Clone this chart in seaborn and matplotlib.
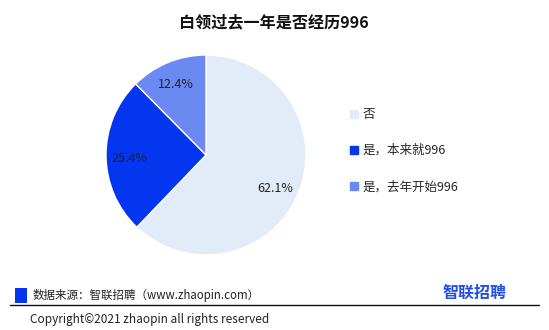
import matplotlib
matplotlib.use("Agg")
import matplotlib.pyplot as plt
import seaborn as sns
from matplotlib.patches import Rectangle
from matplotlib.lines import Line2D
import numpy as np

categories = ["否", "是，本来就996", "是，去年开始996"]
values = [62.1, 25.4, 12.4]
colors = ["#E2ECF8", "#0336EE", "#6A8AF2"]
label_dist = [0.77, 0.77, 0.77]
label_rot = [-3.5, 2.0, 0.5]

sns.set_theme(style="white")
plt.rcParams['font.family'] = ['Noto Sans CJK SC', 'DejaVu Sans']

W, H = 549, 330
fig = plt.figure(figsize=(W / 100, H / 100), dpi=100)
fig.patch.set_facecolor("white")

# pie axes: center (206,155), radius 100 px
ax = fig.add_axes([106 / W, (H - 255) / H, 200 / W, 200 / H])
wedges, texts = ax.pie(values, colors=colors, startangle=90, counterclock=False,
                       wedgeprops=dict(edgecolor="white", linewidth=1))
ax.set_xlim(-1, 1)
ax.set_ylim(-1, 1)
ax.set_aspect("equal")
ax.axis("off")

for w, v, d, r in zip(wedges, values, label_dist, label_rot):
    ang = np.deg2rad((w.theta1 + w.theta2) / 2 + r)
    ax.text(d * np.cos(ang), d * np.sin(ang), f"{v:.1f}%", ha="center", va="center",
            fontsize=9, color="#222222")

# legend
handles = [Line2D([0], [0], marker="s", linestyle="none", markersize=6,
                  markerfacecolor=c, markeredgecolor=c) for c in colors]
fig.legend(handles, categories, loc="upper left", bbox_to_anchor=(348 / W, 1 - 108 / H),
           frameon=False, fontsize=9, labelspacing=1.85, handletextpad=0.25,
           handlelength=0.9, borderaxespad=0, borderpad=0)

# title
fig.text(274 / W, 1 - 22 / H, "白领过去一年是否经历996", ha="center", va="center",
         fontsize=11.6, fontweight="bold", color="#111111")

# footer
fig.patches.append(Rectangle((15 / W, 1 - 303 / H), 12 / W, 15 / H, transform=fig.transFigure,
                             facecolor="#0336EE", edgecolor="none"))
fig.text(33 / W, 1 - 295 / H, "数据来源：智联招聘（www.zhaopin.com）", ha="left", va="center",
         fontsize=8.3, color="#222222")
fig.text(507 / W, 1 - 293 / H, "智联招聘", ha="right", va="center",
         fontsize=11.5, fontweight="bold", color="#1F4FE8")
fig.lines.append(Line2D([10 / W, 539 / W], [1 - 305 / H, 1 - 305 / H], transform=fig.transFigure,
                        color="#111111", linewidth=1))
fig.text(30 / W, 1 - 319 / H, "Copyright©2021 zhaopin all rights reserved", ha="left", va="center",
         fontsize=8.5, color="#222222")

fig.savefig("out.png", dpi=100)
